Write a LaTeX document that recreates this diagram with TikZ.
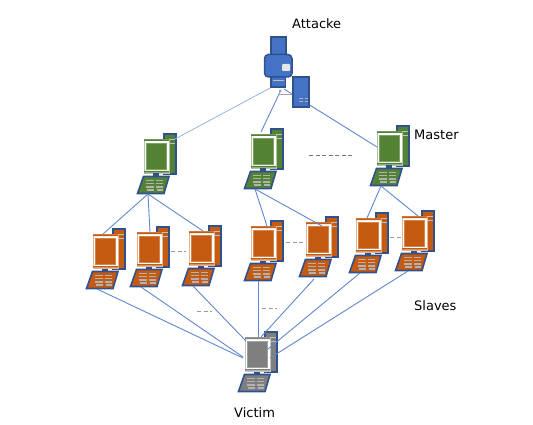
\documentclass[tikz,border=0pt]{standalone}
\usepackage{fontspec}
\setmainfont{DejaVu Sans}
\definecolor{boxblue}{HTML}{4472C4}
\definecolor{edgeblue}{HTML}{2F528F}
\definecolor{pcgreen}{HTML}{548235}
\definecolor{pcorange}{HTML}{C55A11}
\definecolor{pcgrey}{HTML}{7F7F7F}
\tikzset{
  link/.style={draw=boxblue!85, line width=0.9pt},
  faintlink/.style={draw=boxblue!55, line width=0.8pt},
  gap/.style={draw=black!40, line width=1pt, dash pattern=on 4pt off 2.5pt},
  caption/.style={inner sep=0pt, anchor=base west, font=\fontsize{13}{15}\selectfont},
  pics/computer/.style={code={
    % Tower
    \draw[draw=edgeblue, line width=1.5pt, fill=#1] (20,-5) rectangle (32,35);
    \draw[white!75!black, line width=0.9pt] (26,0.5) -- (31,0.5) (26,4) -- (31,4);
    % Screen
    \draw[draw=#1!45, fill=white, line width=0.7pt] (0,0) rectangle (25,34);
    \fill[#1] (0,0.3) rectangle (25,2) (0,32) rectangle (25,33.7);
    \draw[draw=#1!75, fill=#1, line width=0.5pt] (2.5,3.8) rectangle (22.5,30.2);
    \fill[edgeblue] (9,34.5) rectangle (15,37);
    % Keyboard
    \draw[draw=edgeblue, line width=1.6pt, fill=#1] (-0.5,37.5) -- (25,37.5) -- (20,54.5) -- (-6.5,54.5) -- cycle;
    \foreach \y/\s in {41.5/0, 44.5/0.4, 48/0.2, 51/0.5}
      \draw[white!70!black, line width=1.1pt] (2+\s,\y) -- (9.5+\s,\y) (12+\s,\y) -- (18.5+\s,\y);
    \coordinate (-base) at (4,55);
  }},
}
\begin{document}
\begin{tikzpicture}[x=1pt, y=-1pt]
    \useasboundingbox (0,0) rectangle (533,425);

    % Line ends
    \coordinate (hostl) at (272,87);
    \coordinate (hostm) at (281,90);
    \coordinate (hostr) at (284,89);
    \coordinate (m1in) at (175,139);
    \coordinate (m2in) at (261,132);
    \coordinate (m3in) at (377,147);
    \coordinate (s1in) at (103,234);
    \coordinate (s2in) at (150,232);
    \coordinate (s3in) at (203,231);
    \coordinate (s4in) at (267,226);
    \coordinate (s5in) at (322,226);
    \coordinate (s6in) at (367,218);
    \coordinate (s7in) at (418,216);
    \coordinate (v1in) at (243,358);
    \coordinate (v2in) at (243,357);
    \coordinate (v3in) at (246,341);
    \coordinate (v4in) at (258,337);
    \coordinate (v5in) at (261,337);
    \coordinate (v6in) at (268,349);
    \coordinate (v7in) at (270,358);
    \coordinate (s4out) at (258,281);
    \coordinate (s5out) at (314,279);
    \coordinate (s6out) at (360,273);
    \coordinate (s7out) at (408,271);

    % Computers
    \foreach \name/\x/\y/\col in {m1/144/139/pcgreen, m2/251/134/pcgreen, m3/377/131/pcgreen,
        s1/93/234/pcorange, s2/137/232/pcorange, s3/189/231/pcorange, s4/251/226/pcorange,
        s5/306/222/pcorange, s6/356/218/pcorange, s7/402/216/pcorange, v/245/337/pcgrey}
        \pic (\name) at (\x,\y) {computer=\col};

    % Attacker to masters
    \draw[faintlink] (hostl) -- (m1in);
    \draw[link] (hostm) -- (m2in);
    \draw[link] (hostr) -- (m3in);

    % Masters to slaves
    \draw[link] (m1-base) -- (s1in);
    \draw[link] (m1-base) -- (s2in);
    \draw[link] (m1-base) -- (s3in);
    \draw[link] (m2-base) -- (s4in);
    \draw[link] (m2-base) -- (s5in);
    \draw[link] (m3-base) -- (s6in);
    \draw[link] (m3-base) -- (s7in);

    % Slaves to victim
    \draw[link] (s1-base) -- (v1in);
    \draw[link] (s2-base) -- (v2in);
    \draw[link] (s3-base) -- (v3in);
    \draw[link] (s4out) -- (v4in);
    \draw[link] (s5out) -- (v5in);
    \draw[link] (s6out) -- (v6in);
    \draw[link] (s7out) -- (v7in);

    % Attacker
    \draw[black!35, line width=1pt] (279,90) -- (279,95) -- (293,95);
    \draw[draw=edgeblue, line width=1.2pt, fill=boxblue] (271,37) rectangle (286,55);
    \draw[draw=edgeblue, line width=1.2pt, fill=boxblue] (271,76) rectangle (285.5,87);
    \draw[white!75!black, line width=0.8pt] (273,80) -- (284,80);
    \draw[draw=edgeblue, line width=1.5pt, fill=boxblue, rounded corners=4pt] (264.5,54.5) rectangle (292,77);
    \fill[black!10, rounded corners=1pt] (282,64) rectangle (290,71);
    \draw[draw=edgeblue, line width=1.2pt, fill=boxblue] (293,77) rectangle (309,107);
    \draw[white!70!black, line width=0.8pt] (299,98.5) -- (302.5,98.5) (305,98.5) -- (307.5,98.5)
        (299,101) -- (302.5,101) (305,101) -- (307.5,101);

    % Gaps between machines
    \draw[gap, black!55] (309,156) -- (353,156);
    \draw[gap] (171,251) -- (186,251);
    \draw[gap] (286,242) -- (303,242);
    \draw[gap] (390,237) -- (401,237);
    \draw[gap] (197,311) -- (212,311);
    \draw[gap] (262,308) -- (277,308);

    % Labels
    \node[caption] (attacker) at (292,29) {Attacke};
    \node[caption] (master) at (414,140) {Master};
    \node[caption] (slaves) at (414,310) {Slaves};
    \node[caption] (victim) at (234,417) {Victim};
\end{tikzpicture}
\end{document}
